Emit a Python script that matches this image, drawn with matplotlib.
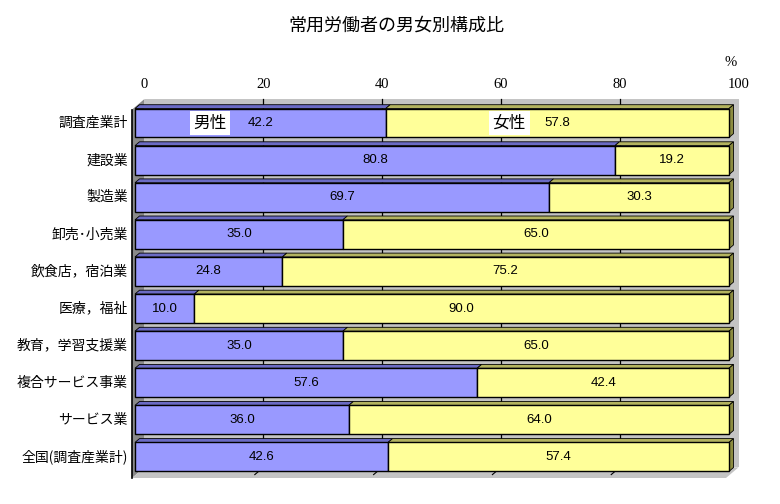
import matplotlib
matplotlib.use("Agg")
import matplotlib.pyplot as plt
from matplotlib.patches import Polygon

plt.rcParams["font.family"] = ["Noto Sans CJK JP", "DejaVu Sans"]

categories = ["調査産業計", "建設業", "製造業", "卸売･小売業", "飲食店，宿泊業",
              "医療，福祉", "教育，学習支援業", "複合サービス事業", "サービス業",
              "全国(調査産業計)"]
male = [42.2, 80.8, 69.7, 35.0, 24.8, 10.0, 35.0, 57.6, 36.0, 42.6]
female = [57.8, 19.2, 30.3, 65.0, 75.2, 90.0, 65.0, 42.4, 64.0, 57.4]
xticks = [0, 20, 40, 60, 80, 100]

W, H = 780, 504
SX = 5.94   # px per percent on the bar front plane
SY = 37.1   # px per category
X0, Y0 = 135, 123   # pixel of value 0 / first category centre
XLIM = (-2.0, 103.0)
YLIM = (9.892, -0.889)

# depth offsets (px along the receding direction)
D_FRONT, D_BAR, D_WALL = -3.0, 4.5, 9.5
RISE = 0.85
HALF = 0.39
C_TOP, C_BOT = -0.43, 9.5

WALL = "#c4c4c4"
FLOOR = "#8a8a8a"
BLUE, BLUE_TOP = "#9999ff", "#6b6bc4"
YEL, YEL_TOP, YEL_SIDE = "#ffff99", "#b3b35f", "#8c8c40"


def pt(v, c, d):
    return (v + d / SX, c - d * RISE / SY)


def face(ax, pts, color, z, lw=0.6, ec="black"):
    ax.add_patch(Polygon(pts, closed=True, facecolor=color, edgecolor=ec,
                         linewidth=lw, zorder=z))


fig = plt.figure(figsize=(W / 100, H / 100), dpi=100)
left = (X0 + XLIM[0] * SX) / W
width = (XLIM[1] - XLIM[0]) * SX / W
top_px = Y0 + YLIM[1] * SY
bot_px = Y0 + YLIM[0] * SY
ax = fig.add_axes([left, 1 - bot_px / H, width, (bot_px - top_px) / H])
ax.set_xlim(*XLIM)
ax.set_ylim(*YLIM)
ax.axis("off")

# back wall, left floor, bottom strip
face(ax, [pt(0, C_TOP, D_WALL), pt(100, C_TOP, D_WALL),
          pt(100, C_BOT, D_WALL), pt(0, C_BOT, D_WALL)], WALL, 1, lw=0, ec="none")
face(ax, [pt(0, C_TOP, D_FRONT), pt(0, C_TOP, D_WALL),
          pt(0, C_BOT, D_WALL), pt(0, C_BOT, D_FRONT)], FLOOR, 2, lw=0, ec="none")
face(ax, [pt(0, C_BOT, D_FRONT), pt(0, C_BOT, D_WALL),
          pt(100, C_BOT, D_WALL), pt(100, C_BOT, D_FRONT)], WALL, 2, lw=0, ec="none")
fx, fy = zip(pt(0, C_TOP, D_FRONT), pt(0, C_BOT, D_FRONT))
ax.plot(fx, fy, color="black", lw=1.2, zorder=3)

for v in xticks[1:-1]:
    gx, gy = zip(pt(v, C_TOP, D_WALL), pt(v, C_BOT, D_WALL))
    ax.plot(gx, gy, color="black", lw=0.9, zorder=1.5)
    sx_, sy_ = zip(pt(v, C_BOT, D_WALL), pt(v, C_BOT, D_FRONT + 4))
    ax.plot(sx_, sy_, color="black", lw=0.8, zorder=2.5)

for v in xticks:
    x, _ = pt(v, 0, D_WALL)
    ax.text(x, -1.05, str(v), ha="center", va="center", fontsize=10.5,
            family="Liberation Serif")
ax.text(100.3, -1.64, "%", ha="center", va="center", fontsize=10.5,
        family="Liberation Serif")

# bars
for i, (m, f) in enumerate(zip(male, female)):
    segs = [(0, m, BLUE, BLUE_TOP), (m, m + f, YEL, YEL_TOP)]
    for v0, v1, col, top in segs:
        face(ax, [pt(v0, i - HALF, 0), pt(v1, i - HALF, 0),
                  pt(v1, i - HALF, D_BAR), pt(v0, i - HALF, D_BAR)], top, 4)
        face(ax, [(v0, i - HALF), (v1, i - HALF), (v1, i + HALF), (v0, i + HALF)],
             col, 5, lw=1.0)
    end = m + f
    face(ax, [pt(end, i - HALF, 0), pt(end, i + HALF, 0),
              pt(end, i + HALF, D_BAR), pt(end, i - HALF, D_BAR)], YEL_SIDE, 4)
    ax.text(m / 2, i, f"{m:.1f}", ha="center", va="center", fontsize=9.5,
            family="Liberation Sans", zorder=6)
    ax.text(m + f / 2, i, f"{f:.1f}", ha="center", va="center", fontsize=9.5,
            family="Liberation Sans", zorder=6)
    ax.text(-1.2, i, categories[i], ha="right", va="center", fontsize=10)

box = dict(boxstyle="square,pad=0.22", facecolor="white", edgecolor="none")
ax.text(12.6, 0, "男性", ha="center", va="center", fontsize=12, bbox=box, zorder=6)
ax.text(63.0, 0, "女性", ha="center", va="center", fontsize=12, bbox=box, zorder=6)

fig.text(396 / W, 1 - 26 / H, "常用労働者の男女別構成比", ha="center", va="center",
         fontsize=13)

fig.savefig("out.png", dpi=100)
